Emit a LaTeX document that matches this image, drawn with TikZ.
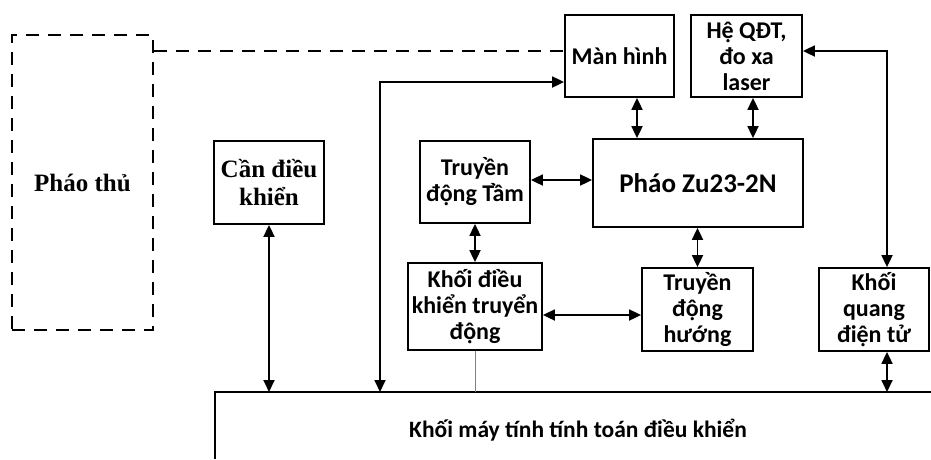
\documentclass[tikz,border=0pt]{standalone}
\usepackage{fontspec}
\setmainfont{Carlito}
\newfontfamily\timesf{Liberation Serif}
\usetikzlibrary{arrows.meta}
\begin{document}
\begin{tikzpicture}[x=1pt,y=-1pt,
  blk/.style={draw,line width=1.8pt,inner sep=0pt,align=center,font=\bfseries\fontsize{24}{26}\selectfont},
  conn/.style={line width=1.8pt,{Triangle[length=12pt,width=11pt]}-{Triangle[length=12pt,width=11pt]}},
  dsh/.style={line width=1.8pt,dash pattern=on 13pt off 9pt}]
\useasboundingbox (0,0) rectangle (931,459);
% helper coordinates
\coordinate (xa) at (637,0);
\coordinate (xb) at (753,0);
\coordinate (xr) at (887,0);
\coordinate (xl) at (380,0);
\coordinate (ya) at (0,51);
\coordinate (yb) at (0,82);
\coordinate (yc) at (0,180);
\coordinate (ye) at (0,315);
\coordinate (ctop) at (0,392);
% boxes
\node[blk,dsh,minimum width=141pt,minimum height=295pt,font=\timesf\bfseries\fontsize{25}{27}\selectfont] (thu) at (82.5,182.5) {Pháo thủ};
\node[blk,minimum width=109pt,minimum height=82pt] (man) at (619.5,56) {Màn hình};
\node[blk,minimum width=111pt,minimum height=82pt] (he) at (746.5,56) {Hệ QĐT,\\đo xa\\laser};
\node[blk,minimum width=110pt,minimum height=83pt,font=\timesf\bfseries\fontsize{25}{28}\selectfont] (can) at (269,182.5) {Cần điều\\khiển};
\node[blk,minimum width=110pt,minimum height=82pt] (tam) at (475,182) {Truyền\\động Tầm};
\node[blk,minimum width=210pt,minimum height=88pt,font=\bfseries\fontsize{27}{30}\selectfont] (phao) at (698,183) {Pháo Zu23-2N};
\node[blk,minimum width=134pt,minimum height=87pt] (dk) at (475,306.5) {Khối điều\\khiển truyển\\động};
\node[blk,minimum width=111pt,minimum height=83pt] (huong) at (697.5,309.5) {Truyền\\động\\hướng};
\node[blk,minimum width=110pt,minimum height=83pt] (quang) at (874,309.5) {Khối\\quang\\điện tử};
% computer block (open)
\draw[line width=1.8pt] (215,459) -- (215,392) -- (935,392);
\node[font=\bfseries\fontsize{23.5}{26}\selectfont] (comp) at (578,430) {Khối máy tính tính toán điều khiển};
% connectors
\draw[dsh] (thu.east |- ya) -- (man.west |- ya);
\draw[conn] (man.south -| xa) -- (phao.north -| xa);
\draw[conn] (he.south -| xb) -- (phao.north -| xb);
\draw[conn] (tam.east |- yc) -- (phao.west |- yc);
\draw[conn] (tam.south) -- (dk.north);
\draw[conn] (phao.south -| huong.north) -- (huong.north);
\draw[conn] (dk.east |- ye) -- (huong.west |- ye);
\draw[conn] (can.south) -- (can.south |- ctop);
\draw[conn] (quang.south -| xr) -- (xr |- ctop);
\draw[line width=0.6pt,gray] (dk.south) -- (dk.south |- ctop);
\draw[conn] (xl |- ctop) |- (man.west |- yb);
\draw[conn] (he.east |- ya) -| (quang.north -| xr);
\end{tikzpicture}
\end{document}
